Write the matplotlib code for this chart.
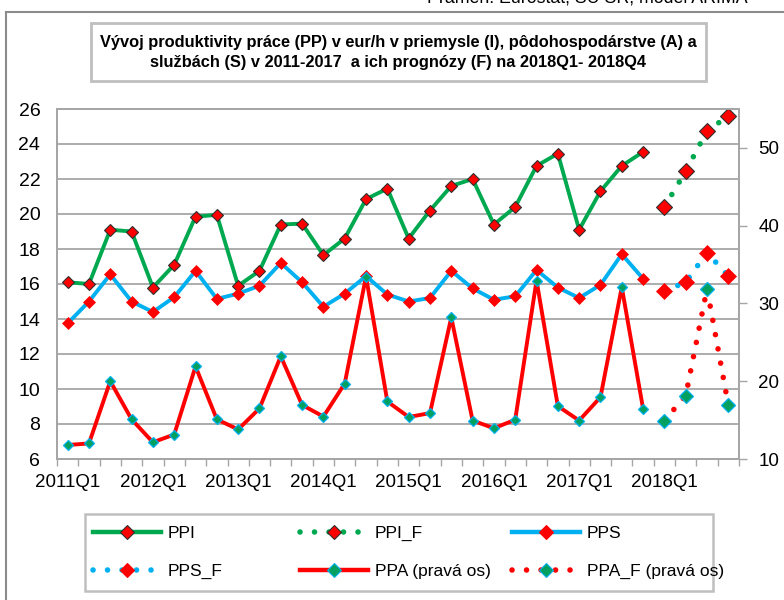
import matplotlib
matplotlib.use("Agg")
import matplotlib.pyplot as plt
from matplotlib.lines import Line2D
from matplotlib.patches import Rectangle

plt.rcParams['font.family'] = ['Liberation Sans Narrow', 'Liberation Sans', 'DejaVu Sans']

quarters = [f"{y}Q{q}" for y in range(2011, 2019) for q in range(1, 5)]
hist_quarters = quarters[:28]
fc_quarters = quarters[28:]
xtick_labels = ['2011Q1', '2012Q1', '2013Q1', '2014Q1', '2015Q1', '2016Q1', '2017Q1', '2018Q1']

PPI = [16.1, 16.0, 19.1, 19.0, 15.8, 17.1, 19.85, 19.95, 15.9, 16.75, 19.4, 19.45,
       17.65, 18.6, 20.85, 21.45, 18.6, 20.2, 21.6, 22.0, 19.4, 20.4, 22.75, 23.45,
       19.1, 21.3, 22.75, 23.55]
PPI_F = [20.4, 22.45, 24.75, 25.6]

PPS = [13.75, 15.0, 16.55, 15.0, 14.4, 15.25, 16.75, 15.15, 15.45, 15.9, 17.2, 16.1,
       14.7, 15.45, 16.45, 15.4, 15.0, 15.2, 16.75, 15.75, 15.1, 15.3, 16.8, 15.8,
       15.2, 15.95, 17.7, 16.3]
PPS_F = [15.6, 16.1, 17.8, 16.45]

PPA = [11.8, 12.0, 20.0, 15.1, 12.15, 13.15, 21.9, 15.1, 13.8, 16.5, 23.2, 16.95,
       15.45, 19.7, 33.45, 17.4, 15.4, 15.9, 28.2, 14.95, 13.95, 15.05, 32.95, 16.8,
       14.95, 17.95, 32.1, 16.45]
PPA_F = [14.95, 18.15, 31.9, 16.9]

GREEN = '#00A84F'
BLUE = '#00B0F0'
RED = '#FF0000'
TEAL = '#00A060'
GRID = '#A6A6A6'

W, H = 784, 600
fig = plt.figure(figsize=(W / 100, H / 100), dpi=100)

def fx(px):
    return px / W

def fy(py):
    return 1 - py / H

ax = fig.add_axes([fx(57), fy(459), fx(739) - fx(57), fy(109) - fy(459)])
ax2 = ax.twinx()

xh = [quarters.index(q) for q in hist_quarters]
xf = [quarters.index(q) for q in fc_quarters]

dot = (0, (0.01, 2.6))
lw = 2.8

ax.plot(xh, PPI, color=GREEN, lw=lw, marker='D', ms=6, mfc=RED, mec='#303030', mew=0.8, zorder=3)
ax.plot(xf, PPI_F, color=GREEN, lw=4, ls=dot, dash_capstyle='round', marker='D', ms=8,
        mfc=RED, mec='#303030', mew=0.8, zorder=3)
ax.plot(xh, PPS, color=BLUE, lw=lw, marker='D', ms=6, mfc=RED, mec=RED, mew=0.5, zorder=3)
ax.plot(xf, PPS_F, color=BLUE, lw=4, ls=dot, dash_capstyle='round', marker='D', ms=8,
        mfc=RED, mec=RED, mew=0.5, zorder=3)
ax2.plot(xh, PPA, color=RED, lw=lw, marker='D', ms=5.5, mfc=TEAL, mec=BLUE, mew=0.9, zorder=3)
ax2.plot(xf, PPA_F, color=RED, lw=4, ls=dot, dash_capstyle='round', marker='D', ms=7.5,
         mfc=TEAL, mec=BLUE, mew=0.9, zorder=3)

ax.set_xlim(-0.5, len(quarters) - 0.5)
ax.set_ylim(6, 26)
ax.set_yticks(range(6, 27, 2))
ax2.set_ylim(10, 55)
ax2.set_yticks(range(10, 51, 10))

ax.grid(axis='y', color=GRID, lw=1.3, zorder=0)
ax.set_axisbelow(True)

ax.set_xticks([i - 0.5 for i in range(len(quarters) + 1)])
ax.set_xticklabels([])
ax.set_xticks([quarters.index(l) for l in xtick_labels], minor=True)
ax.set_xticklabels(xtick_labels, minor=True)
ax.tick_params(axis='x', which='major', length=5, width=1, color=GRID, direction='out')
ax.tick_params(axis='x', which='minor', length=0, pad=11, labelsize=13.5)
ax.tick_params(axis='y', length=0, pad=12, labelsize=14)
ax2.tick_params(axis='y', length=6, width=1, color=GRID, pad=8, labelsize=13.5)

for a in (ax, ax2):
    for s in a.spines.values():
        s.set_color(GRID)
        s.set_linewidth(1.3)

# Title box
fig.patches.append(Rectangle((fx(91), fy(81)), fx(706) - fx(91), fy(23) - fy(81),
                             transform=fig.transFigure, fill=False, edgecolor='#BFBFBF', lw=2))
fig.text(fx(398.5), fy(52.5),
         "Vývoj produktivity práce (PP) v eur/h v priemysle (I), pôdohospodárstve (A) a\n"
         "službách (S) v 2011-2017  a ich prognózy (F) na 2018Q1- 2018Q4",
         ha='center', va='center', fontsize=11.8, fontweight='bold', linespacing=1.45)

# Source text (cut at top, as in the reference)
fig.text(fx(748), fy(4), "Prameň: Eurostat, ŠÚ SR, model ARIMA", ha='right', va='baseline', fontsize=12.8)

# Outer border
fig.add_artist(Line2D([fx(6), fx(6)], [fy(12), 0], transform=fig.transFigure, color='#8C8C8C', lw=1.5))
fig.add_artist(Line2D([fx(6), 1], [fy(12), fy(12)], transform=fig.transFigure, color='#8C8C8C', lw=1.5))

# Legend
def h(color, dotted, mfc, mec):
    return Line2D([], [], color=color, lw=4 if dotted else 3.2, ls=dot if dotted else '-',
                  dash_capstyle='round', marker='D', ms=7, mfc=mfc, mec=mec, mew=0.8)

cols = [
    ([h(GREEN, False, RED, '#303030'), h(BLUE, True, RED, RED)], ['PPI', 'PPS_F'], 93),
    ([h(GREEN, True, RED, '#303030'), h(RED, False, TEAL, BLUE)], ['PPI_F', 'PPA (pravá os)'], 300),
    ([h(BLUE, False, RED, RED), h(RED, True, TEAL, BLUE)], ['PPS', 'PPA_F (pravá os)'], 512),
]
for handles, labels, x0 in cols:
    fig.legend(handles, labels, loc='upper left', bbox_to_anchor=(fx(x0), fy(526)),
               frameon=False, borderpad=0, borderaxespad=0, handlelength=3.9,
               handletextpad=0.4, labelspacing=1.3, numpoints=1, fontsize=12.5)
fig.patches.append(Rectangle((fx(85), fy(591)), fx(713) - fx(85), fy(514) - fy(591),
                             transform=fig.transFigure, fill=False, edgecolor='#BFBFBF', lw=1.8))

fig.savefig('out.png', dpi=100)
